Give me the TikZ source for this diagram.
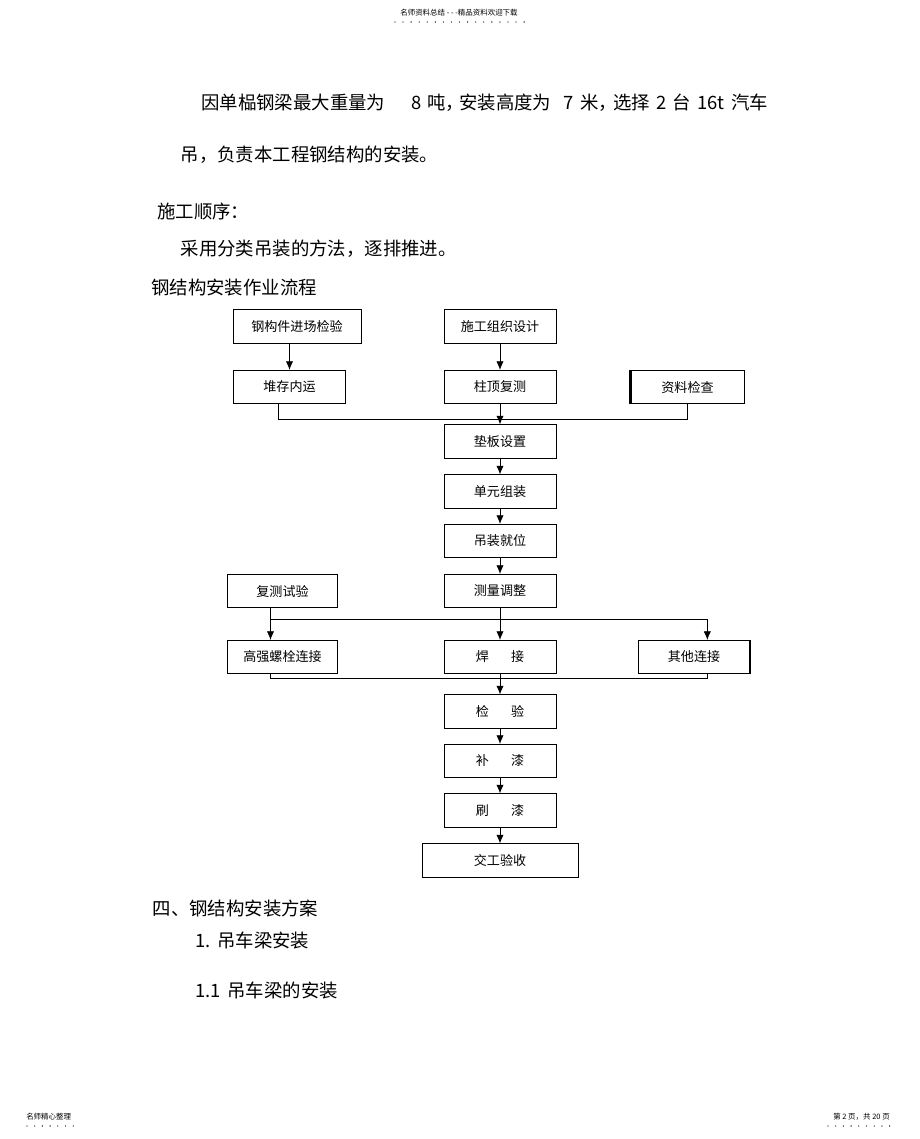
\documentclass[tikz,border=0pt]{standalone}
\usepackage{fontspec}
\setmainfont{Noto Sans CJK SC}
\usetikzlibrary{arrows.meta}

\tikzset{
	flowbox/.style={draw, line width=0.6pt, minimum width=84pt, minimum height=25pt, inner sep=1pt, font=\fontsize{9.8pt}{11pt}\selectfont},
	flowarrow/.style={-{Latex[length=6.5pt,width=5.5pt]}, line width=0.6pt},
	flowline/.style={line width=0.6pt},
	bodytext/.style={anchor=west, inner sep=0pt, font=\fontsize{13.8pt}{16pt}\selectfont},
	smalltext/.style={inner sep=0pt, font=\fontsize{5.6pt}{7pt}\selectfont}
}

\begin{document}
\begin{tikzpicture}[x=0.75pt, y=-0.75pt]

		\fill[white] (0,0) rectangle (920,1139);
		\useasboundingbox (0,0) rectangle (920,1139);

		\node[smalltext] (head) at (459,13) {名师资料总结 - - -精品资料欢迎下载};
		\foreach \i in {0,...,16} \fill (395+\i*8.07,22) circle (0.5pt);

		\node[bodytext] (para1) at (201,103) {因单榀钢梁最大重量为\hspace{20pt}8\hspace{4pt}吨\makebox[10pt][l]{，}安装高度为\hspace{9pt}7\hspace{5pt}米\makebox[11pt][l]{，}选择\hspace{5pt}2\hspace{4pt}台\hspace{5pt}16t\hspace{5pt}汽车};
		\node[bodytext] (para2) at (180.5,155) {吊，负责本工程钢结构的安装。};
		\node[bodytext] (order) at (157,211) {施工顺序：};
		\node[bodytext] (method) at (180.5,249) {采用分类吊装的方法，逐排推进。};
		\node[bodytext] (flowtitle) at (151,288) {钢结构安装作业流程};

		\node[flowbox, minimum width=96pt] (jgjjc) at (297,326.5) {钢构件进场检验};
		\node[flowbox] (sgzzsj) at (500,326.5) {施工组织设计};
		\node[flowbox] (dcny) at (289.5,387) {堆存内运};
		\node[flowbox] (zdfc) at (500,387) {柱顶复测};
		\node[flowbox, minimum width=85pt] (zljc) at (687.5,387) {资料检查};
		\node[flowbox] (dbsz) at (500,441.5) {垫板设置};
		\node[flowbox] (dyzz) at (500,491.5) {单元组装};
		\node[flowbox] (dzjw) at (500,541) {吊装就位};
		\node[flowbox, minimum width=83pt] (fcsy) at (282.5,591) {复测试验};
		\node[flowbox] (cltz) at (500,591) {测量调整};
		\node[flowbox, minimum width=83pt] (gqls) at (282.5,657) {高强螺栓连接};
		\node[flowbox] (hj) at (500,657) {焊\hspace{1.7em}接};
		\node[flowbox] (qtlj) at (694,657) {其他连接};
		\node[flowbox] (jy) at (500,711.5) {检\hspace{1.7em}验};
		\node[flowbox] (bq) at (500,761) {补\hspace{1.7em}漆};
		\node[flowbox] (sq) at (500,810.5) {刷\hspace{1.7em}漆};
		\node[flowbox, minimum width=117pt] (jgys) at (500,860.5) {交工验收};

		\draw[line width=1.6pt] (zljc.north west) -- (zljc.south west);
		\draw[line width=1.6pt] (qtlj.north east) -- (qtlj.south east);

		\draw[flowarrow] (dcny.north |- jgjjc.south) -- (dcny.north);
		\draw[flowarrow] (sgzzsj) -- (zdfc);
		\draw[flowline] ([xshift=-8.25pt]dcny.south) -- ++(0,15) -| (zljc.south);
		\draw[flowarrow] (zdfc) -- (dbsz);
		\draw[flowarrow] (dbsz) -- (dyzz);
		\draw[flowarrow] (dyzz) -- (dzjw);
		\draw[flowarrow] (dzjw) -- (cltz);
		\draw[flowarrow] (cltz) -- (hj);
		\draw[flowarrow] ([xshift=-9pt]fcsy.south) -- ([xshift=-9pt]gqls.north);
		\draw[flowarrow] ([xshift=-9pt]fcsy.south) -- ++(0,11) -| ([xshift=10pt]qtlj.north);
		\draw[flowline] ([xshift=-9pt]gqls.south) -- ++(0,4.5) -| ([xshift=10pt]qtlj.south);
		\draw[flowarrow] (hj) -- (jy);
		\draw[flowarrow] (jy) -- (bq);
		\draw[flowarrow] (bq) -- (sq);
		\draw[flowarrow] (sq) -- (jgys);

		\node[bodytext] (sec4) at (152.5,908) {四、钢结构安装方案};
		\node[bodytext] (sec41) at (195,940) {1.\hspace{5pt}吊车梁安装};
		\node[bodytext] (sec411) at (195,990) {1.1\hspace{5pt}吊车梁的安装};

		\node[smalltext, anchor=west] (footl) at (26,1117) {名师精心整理};
		\foreach \i in {0,...,6} \fill (27+\i*7.7,1126) circle (0.5pt);
		\node[smalltext, anchor=east] (footr) at (890,1117) {第 2 页，共 20 页};
		\foreach \i in {0,...,8} \fill (828+\i*7.7,1126) circle (0.5pt);

\end{tikzpicture}
\end{document}
